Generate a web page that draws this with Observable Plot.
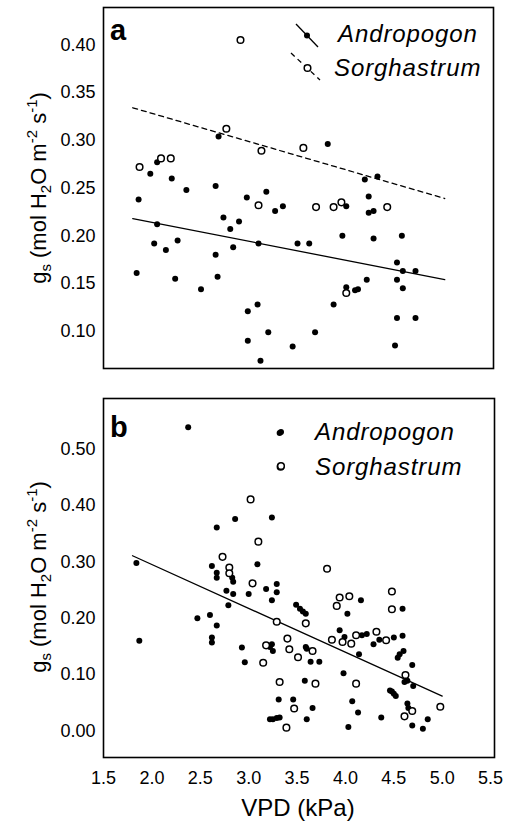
<!DOCTYPE html>
<html><head><meta charset="utf-8">
<script src="https://cdn.jsdelivr.net/npm/d3@7"></script>
<script src="https://cdn.jsdelivr.net/npm/@observablehq/plot@0.6"></script>
<style>
body{margin:0;background:#fff;}
#chart svg{display:block;}
</style>
</head><body><div id="chart"></div>
<script>
// ---------- Panel a data ----------
const aAndroX = [2.68,1.98,2.20,2.35,2.65,1.86,2.97,3.17,2.05,3.26,2.05,2.73,2.89,2.80,2.02,2.14,2.26,2.83,3.09,2.65,1.84,2.235,2.67,2.50,2.98,3.08,2.98,3.19,3.11,
  3.80,4.18,4.31,4.22,3.34,3.99,4.22,4.27,3.95,3.49,3.61,4.27,4.56,4.51,4.57,4.70,4.20,4.51,4.57,3.99,4.08,4.11,3.86,4.51,4.70,3.67,3.44,4.49];
const aAndroY = [0.304,0.265,0.260,0.248,0.252,0.238,0.240,0.246,0.277,0.226,0.212,0.219,0.215,0.207,0.192,0.185,0.195,0.188,0.192,0.180,0.161,0.155,0.157,0.144,0.121,0.128,0.090,0.099,0.069,
  0.296,0.259,0.262,0.241,0.231,0.231,0.224,0.226,0.200,0.192,0.192,0.197,0.200,0.172,0.163,0.163,0.154,0.154,0.145,0.146,0.143,0.144,0.128,0.114,0.114,0.099,0.084,0.085];
const aSorgX = [2.905,2.76,3.12,1.87,2.09,2.19,3.09,3.55,3.68,3.86,3.94,4.41,3.99];
const aSorgY = [0.405,0.312,0.289,0.272,0.281,0.281,0.232,0.292,0.230,0.230,0.235,0.230,0.140];
const aFitAndroX = [1.8, 5.0];
const aFitAndroY = [0.218, 0.154];
const aFitSorgX = [1.8, 5.0];
const aFitSorgY = [0.334, 0.239];
const yTicksA = [0.10,0.15,0.20,0.25,0.30,0.35,0.40];

// ---------- Panel b data ----------
const bAndroX = [2.375,3.32,3.24,2.86,2.67,1.84,3.09,2.62,2.67,2.67,2.83,2.84,3.29,2.77,2.84,3.00,3.18,3.29,3.24,2.79,
  3.49,3.53,3.56,3.59,4.16,4.02,4.59,
  3.94,3.99,4.17,4.22,4.35,4.29,4.50,4.59,4.60,4.56,4.54,4.14,4.69,4.61,4.64,4.70,4.46,4.48,4.50,4.52,3.98,4.07,4.13,4.03,4.37,4.64,4.65,4.85,4.69,4.80,
  3.58,3.31,3.46,3.66,3.60,3.22,3.25,3.29,3.32,3.59,3.60,3.64,3.73,3.24,3.22,3.25,
  1.87,2.47,2.60,2.67,2.62,2.62,2.93,2.96];
const bAndroY = [0.539,0.529,0.379,0.376,0.361,0.298,0.296,0.293,0.281,0.272,0.272,0.265,0.261,0.249,0.243,0.243,0.252,0.246,0.232,0.223,
  0.224,0.217,0.212,0.208,0.232,0.208,0.217,
  0.179,0.167,0.170,0.172,0.162,0.154,0.166,0.169,0.142,0.136,0.130,0.136,0.117,0.087,0.089,0.080,0.072,0.070,0.066,0.062,0.1025,0.053,0.033,0.007,0.024,0.049,0.041,0.021,0.010,0.004,
  0.089,0.056,0.056,0.041,0.021,0.021,0.021,0.023,0.024,0.149,0.146,0.123,0.123,0.154,0.149,0.142,
  0.160,0.200,0.206,0.187,0.166,0.157,0.148,0.122];
const bSorgX = [3.33,3.02,3.10,2.73,2.80,2.80,3.04,3.81,3.94,4.04,3.91,4.48,4.48,3.29,3.59,3.86,3.97,4.06,4.11,4.32,4.42,4.62,4.11,4.69,4.61,4.98,3.32,3.69,3.47,3.39,3.40,3.42,3.51,3.66,3.15,3.18];
const bSorgY = [0.469,0.411,0.336,0.309,0.290,0.280,0.262,0.288,0.237,0.239,0.222,0.2476,0.216,0.194,0.191,0.162,0.158,0.155,0.170,0.176,0.161,0.0995,0.084,0.0355,0.026,0.043,0.087,0.084,0.040,0.006,0.164,0.145,0.131,0.142,0.121,0.152];
const bFitX = [1.8, 5.0];
const bFitY = [0.311, 0.062];
const yTicksB = [0.00,0.10,0.20,0.30,0.40,0.50];
const xTicks = [1.5,2.0,2.5,3.0,3.5,4.0,4.5,5.0,5.5];

const seriesNames = ["Andropogon", "Sorghastrum"];
const xTitle = "VPD (kPa)";

const zip = (xs, ys) => xs.map((x, i) => ({x, y: ys[i]}));
const font = "'Liberation Sans', Arial, Helvetica, sans-serif";

// ---------- Panel a ----------
const plotA = Plot.plot({
  width: 509, height: 385,
  marginTop: 7, marginBottom: 17, marginLeft: 103, marginRight: 16,
  style: {fontFamily: font, fontSize: "18px", background: "white", color: "black", overflow: "visible"},
  x: {domain: [1.5, 5.5], axis: null},
  y: {domain: [0.061, 0.439], ticks: yTicksA, tickSize: 0, tickPadding: 8, tickFormat: d3.format(".2f"), label: null},
  marks: [
    Plot.frame({stroke: "black", strokeWidth: 1.6}),
    Plot.line(zip(aFitAndroX, aFitAndroY), {x: "x", y: "y", stroke: "black", strokeWidth: 1.3}),
    Plot.line(zip(aFitSorgX, aFitSorgY), {x: "x", y: "y", stroke: "black", strokeWidth: 1.3, strokeDasharray: "5,4"}),
    Plot.dot(zip(aAndroX, aAndroY), {x: "x", y: "y", r: 3, fill: "black", stroke: "none"}),
    Plot.dot(zip(aSorgX, aSorgY), {x: "x", y: "y", r: 3.3, fill: "white", stroke: "black", strokeWidth: 1.5})
  ]
});

// ---------- Panel b ----------
const plotB = Plot.plot({
  width: 509, height: 442,
  marginTop: 13, marginBottom: 70, marginLeft: 103, marginRight: 15,
  style: {fontFamily: font, fontSize: "18px", background: "white", color: "black", overflow: "visible"},
  x: {domain: [1.5, 5.54], ticks: xTicks, tickSize: 0, tickPadding: 14, tickFormat: d3.format(".1f"), label: null},
  y: {domain: [-0.047, 0.59], ticks: yTicksB, tickSize: 0, tickPadding: 8, tickFormat: d3.format(".2f"), label: null},
  marks: [
    Plot.frame({stroke: "black", strokeWidth: 1.6}),
    Plot.line(zip(bFitX, bFitY), {x: "x", y: "y", stroke: "black", strokeWidth: 1.3}),
    Plot.dot(zip(bAndroX, bAndroY), {x: "x", y: "y", r: 3, fill: "black", stroke: "none"}),
    Plot.dot(zip(bSorgX, bSorgY), {x: "x", y: "y", r: 3.3, fill: "white", stroke: "black", strokeWidth: 1.5})
  ]
});

const chart = document.getElementById("chart");
chart.appendChild(plotA);
chart.appendChild(plotB);

function yTitle(svg, cx, cy) {
  const t = d3.select(svg).append("text")
    .attr("transform", `translate(${cx},${cy}) rotate(-90)`)
    .attr("text-anchor", "middle")
    .attr("font-family", font).attr("font-size", 22).attr("fill", "black");
  t.append("tspan").text("g");
  t.append("tspan").attr("font-size", 15).attr("dy", 5).text("s");
  t.append("tspan").attr("dy", -5).text(" (mol H");
  t.append("tspan").attr("font-size", 15).attr("dy", 5).text("2");
  t.append("tspan").attr("dy", -5).text("O m");
  t.append("tspan").attr("font-size", 15).attr("dy", -9).text("-2");
  t.append("tspan").attr("dy", 9).text(" s");
  t.append("tspan").attr("font-size", 15).attr("dy", -9).text("-1");
  t.append("tspan").attr("dy", 9).text(")");
}
yTitle(plotA, 46, 188);
yTitle(plotB, 46, 192);

function panelLabel(svg, x, y, s) {
  d3.select(svg).append("text").attr("x", x).attr("y", y)
    .attr("text-anchor", "start")
    .attr("font-family", font).attr("font-size", 29).attr("font-weight", "bold")
    .attr("fill", "black").text(s);
}
panelLabel(plotA, 110, 40, "a");
panelLabel(plotB, 110, 52, "b");

function legendText(svg, x, y, s) {
  d3.select(svg).append("text").attr("x", x).attr("y", y)
    .attr("text-anchor", "start")
    .attr("font-family", font).attr("font-size", 24).attr("font-style", "italic")
    .attr("letter-spacing", 0.9).attr("fill", "black").text(s);
}
// legend a
{
  const g = d3.select(plotA).append("g");
  g.append("line").attr("x1", 296).attr("y1", 24).attr("x2", 318).attr("y2", 47).attr("stroke", "black").attr("stroke-width", 1.3);
  g.append("circle").attr("cx", 307).attr("cy", 35.5).attr("r", 3).attr("fill", "black");
  g.append("line").attr("x1", 291).attr("y1", 53).attr("x2", 320).attr("y2", 80).attr("stroke", "black").attr("stroke-width", 1.3).attr("stroke-dasharray", "5,4");
  g.append("circle").attr("cx", 307.5).attr("cy", 68).attr("r", 3.3).attr("fill", "white").attr("stroke", "black").attr("stroke-width", 1.5);
  legendText(plotA, 338, 42, seriesNames[0]);
  legendText(plotA, 334, 76, seriesNames[1]);
}
// legend b
{
  const g = d3.select(plotB).append("g");
  g.append("circle").attr("cx", 281).attr("cy", 47).attr("r", 3).attr("fill", "black");
  g.append("circle").attr("cx", 281).attr("cy", 81).attr("r", 3.3).attr("fill", "white").attr("stroke", "black").attr("stroke-width", 1.5);
  legendText(plotB, 315, 55, seriesNames[0]);
  legendText(plotB, 315, 89.5, seriesNames[1]);
}
// x title
d3.select(plotB).append("text").attr("x", 298).attr("y", 431)
  .attr("text-anchor", "middle").attr("font-family", font).attr("font-size", 24)
  .attr("fill", "black").text(xTitle);
</script></body></html>
